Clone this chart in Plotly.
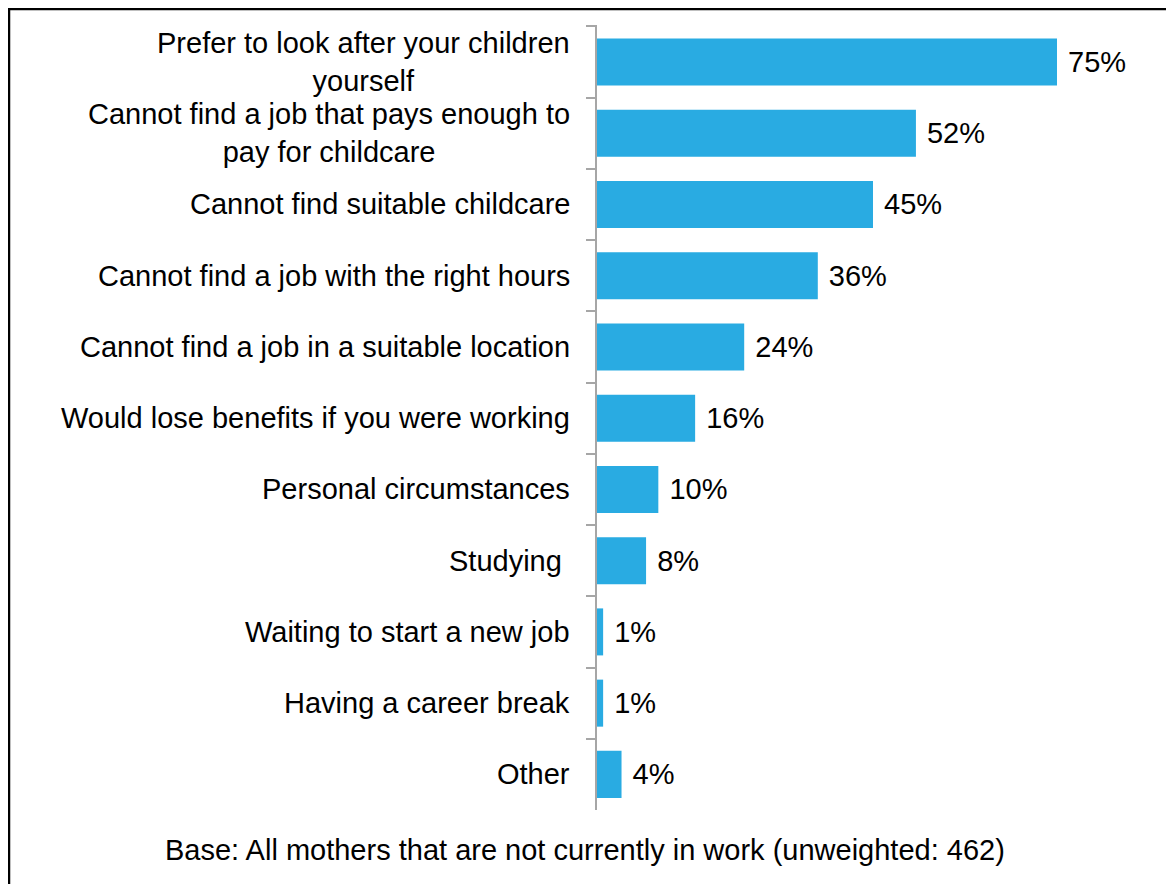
import plotly.graph_objects as go

# data
REASONS = [
    "Prefer to look after your children<br>yourself",
    "Cannot find a job that pays enough to<br>pay for childcare",
    "Cannot find suitable childcare",
    "Cannot find a job with the right hours",
    "Cannot find a job in a suitable location",
    "Would lose benefits if you were working",
    "Personal circumstances",
    "Studying ",
    "Waiting to start a new job",
    "Having a career break",
    "Other",
]
PERCENTS = [75, 52, 45, 36, 24, 16, 10, 8, 1, 1, 4]
FOOTNOTE = "Base: All mothers that are not currently in work (unweighted: 462)"

BAR_COLOUR = "#29abe2"
FONT = "Liberation Sans, Arial, sans-serif"
FONT_SIZE = 29

# the page puts the figure 8px in from the top left corner
W, H = 1166, 876
M_L, M_R, M_T, M_B = 589, 25, 17, 74
PLOT_W = W - M_L - M_R
PLOT_H = H - M_T - M_B


def px_x(x):
    return (x - M_L) / PLOT_W


def px_y(y):
    return (H - M_B - y) / PLOT_H


fig = go.Figure()
fig.add_trace(go.Bar(
    x=PERCENTS, y=REASONS, orientation="h",
    marker_color=BAR_COLOUR, marker_line_width=0,
    text=[f" {v}%" for v in PERCENTS], textposition="outside",
    textfont=dict(size=FONT_SIZE, color="black", family=FONT),
    cliponaxis=False, hoverinfo="skip",
))

annotations = []
for reason in REASONS:
    annotations.append(dict(
        x=0, xref="paper", y=reason, yref="y", xanchor="right",
        xshift=-25, text=reason, showarrow=False, align="center",
        font=dict(size=FONT_SIZE, color="black", family=FONT),
    ))
annotations.append(dict(
    x=px_x(W / 2 - 6), xref="paper", y=px_y(842), yref="paper",
    text=FOOTNOTE, showarrow=False, xanchor="center", yanchor="middle",
    font=dict(size=FONT_SIZE, color="black", family=FONT),
))

# frame visible on top and left of the picture
shapes = [
    dict(type="line", xref="paper", yref="paper",
         x0=px_x(0), x1=px_x(W + 10), y0=px_y(1), y1=px_y(1),
         line=dict(color="black", width=2.5)),
    dict(type="line", xref="paper", yref="paper",
         x0=px_x(1), x1=px_x(1), y0=px_y(0), y1=px_y(H + 10),
         line=dict(color="black", width=2.5)),
]

fig.update_layout(
    width=W, height=H,
    margin=dict(l=M_L, r=M_R, t=M_T, b=M_B),
    paper_bgcolor="white", plot_bgcolor="white",
    bargap=0.34, showlegend=False,
    annotations=annotations, shapes=shapes,
    font=dict(family=FONT, size=FONT_SIZE, color="black"),
    xaxis=dict(range=[0, 90], visible=False, fixedrange=True),
    yaxis=dict(
        categoryorder="array", categoryarray=REASONS, autorange="reversed",
        showticklabels=False, showgrid=False, zeroline=False,
        showline=True, linecolor="#a6a6a6", linewidth=1.5,
        ticks="outside", tickson="boundaries", ticklen=9,
        tickcolor="#a6a6a6", tickwidth=1.5, fixedrange=True,
    ),
)

fig.write_html("out.html")
